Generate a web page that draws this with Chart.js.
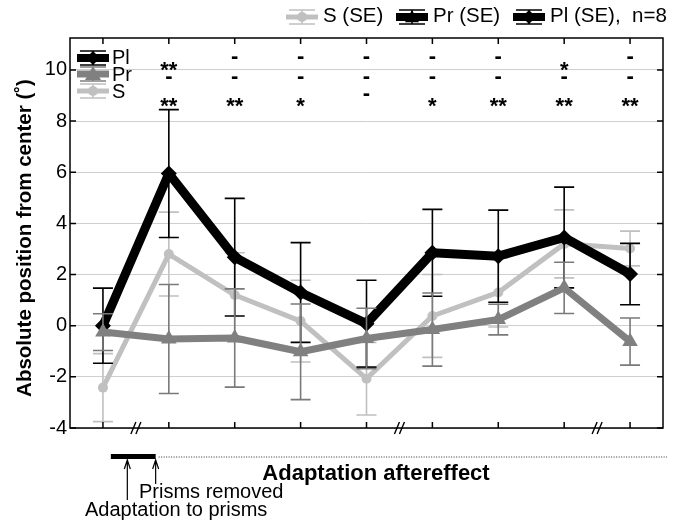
<!DOCTYPE html>
<html>
<head>
<meta charset="utf-8">
<script src="https://cdn.jsdelivr.net/npm/chart.js@4"></script>
<style>
  html, body { margin: 0; padding: 0; background: #fff; }
  #wrap { width: 673px; height: 520px; position: relative; }
</style>
</head>
<body>
<div id="wrap"><canvas id="chart"></canvas></div>
<script>
// données
const xLabels = ['pretest', '0h', '2h', '4h', '6h', '1d', '2d', '3d', '7d'];
const plMean = [0.0, 5.95, 2.68, 1.3, 0.08, 2.85, 2.72, 3.45, 2.02];
const plSE   = [1.47, 2.5, 2.3, 1.95, 1.7, 1.7, 1.8, 1.97, 1.2];
const prMean = [-0.25, -0.52, -0.48, -1.02, -0.5, -0.15, 0.24, 1.48, -0.62];
const prSE   = [0.72, 2.13, 1.92, 1.87, 1.18, 1.43, 0.6, 1.0, 0.92];
const sMean  = [-2.42, 2.8, 1.2, 0.18, -2.07, 0.38, 1.3, 3.2, 3.02];
const sSE    = [1.33, 1.64, 1.65, 1.6, 1.42, 1.62, 1.35, 1.33, 0.68];
const yTicks = [-4, -2, 0, 2, 4, 6, 8, 10];
const breaks = [0.5, 4.5, 7.5];

// marques de significativité (3 rangées)
const sigRow1 = ['', '**', '-', '-', '-', '-', '-', '*', '-'];
const sigRow2 = ['', '-', '-', '-', '-', '-', '-', '-', '-'];
const sigRow3 = ['', '**', '**', '*', '-', '*', '**', '**', '**'];

const FONT = '"Liberation Sans", Arial, Helvetica, sans-serif';
const C_PL = '#000000', C_PR = '#808080', C_S = '#c0c0c0';

Chart.defaults.font.family = FONT;
Chart.defaults.font.size = 20;
Chart.defaults.color = '#000';

const pts = arr => arr.map((v, i) => ({ x: i, y: v }));

function drawMarker(ctx, style, x, y, r, color) {
    ctx.save();
    ctx.fillStyle = color;
    ctx.beginPath();
    if (style === 'diamond') {
        ctx.moveTo(x, y - r); ctx.lineTo(x + r, y); ctx.lineTo(x, y + r); ctx.lineTo(x - r, y);
    } else if (style === 'triangle') {
        ctx.moveTo(x, y - r); ctx.lineTo(x + r, y + r * 0.75); ctx.lineTo(x - r, y + r * 0.75);
    } else {
        ctx.arc(x, y, r, 0, Math.PI * 2);
    }
    ctx.closePath();
    ctx.fill();
    ctx.restore();
}

function drawIcon(ctx, cx, cy, color, lw, marker, mr) {
    ctx.save();
    ctx.strokeStyle = color;
    ctx.lineWidth = 1.5;
    ctx.beginPath();
    ctx.moveTo(cx - 13, cy - 7); ctx.lineTo(cx + 13, cy - 7);
    ctx.moveTo(cx - 13, cy + 7); ctx.lineTo(cx + 13, cy + 7);
    ctx.moveTo(cx, cy - 7); ctx.lineTo(cx, cy + 7);
    ctx.stroke();
    ctx.lineWidth = lw;
    ctx.beginPath();
    ctx.moveTo(cx - 16, cy); ctx.lineTo(cx + 16, cy);
    ctx.stroke();
    ctx.restore();
    drawMarker(ctx, marker, cx, cy, mr, color);
}

// barres d'erreur dessinées sous chaque série
const errorBars = {
    id: 'errorBars',
    beforeDatasetDraw(chart, args) {
        const ds = chart.data.datasets[args.index];
        if (!ds.errors) return;
        const { ctx, scales: { x, y } } = chart;
        ctx.save();
        ctx.strokeStyle = ds.errColor;
        ctx.lineWidth = 1.6;
        ds.data.forEach((p, i) => {
            const px = x.getPixelForValue(p.x);
            const top = y.getPixelForValue(p.y + ds.errors[i]);
            const bot = y.getPixelForValue(p.y - ds.errors[i]);
            ctx.beginPath();
            ctx.moveTo(px, top); ctx.lineTo(px, bot);
            ctx.moveTo(px - 10, top); ctx.lineTo(px + 10, top);
            ctx.moveTo(px - 10, bot); ctx.lineTo(px + 10, bot);
            ctx.stroke();
        });
        ctx.restore();
    }
};

const decorations = {
    id: 'decorations',
    afterDraw(chart) {
        const { ctx, chartArea: a, scales: { x, y } } = chart;
        ctx.save();

        // cadre et graduations internes
        ctx.strokeStyle = '#000';
        ctx.lineWidth = 1.5;
        ctx.strokeRect(a.left, a.top, a.right - a.left, a.bottom - a.top);
        ctx.beginPath();
        xLabels.forEach((_, i) => {
            const px = x.getPixelForValue(i);
            ctx.moveTo(px, a.bottom); ctx.lineTo(px, a.bottom - 6);
            ctx.moveTo(px, a.top); ctx.lineTo(px, a.top + 6);
        });
        yTicks.forEach(v => {
            const py = y.getPixelForValue(v);
            ctx.moveTo(a.left, py); ctx.lineTo(a.left + 6, py);
            ctx.moveTo(a.right, py); ctx.lineTo(a.right - 6, py);
        });
        ctx.stroke();

        // coupures de l'axe
        ctx.lineWidth = 1.4;
        breaks.forEach(b => {
            const px = x.getPixelForValue(b);
            ctx.beginPath();
            [-2.5, 2.5].forEach(d => {
                ctx.moveTo(px + d - 2.5, a.bottom + 6);
                ctx.lineTo(px + d + 2.5, a.bottom - 6);
            });
            ctx.stroke();
        });

        // marques de significativité
        const MS = 22;
        ctx.textAlign = 'center';
        ctx.textBaseline = 'alphabetic';
        ctx.font = 'bold ' + MS + 'px ' + FONT;
        const rows = [
            { marks: sigRow1, dash: 10.5, star: 10.22 },
            { marks: sigRow2, dash: 9.75, star: 9.75 },
            { marks: sigRow3, dash: 9.05, star: 8.82 }
        ];
        rows.forEach(r => {
            r.marks.forEach((m, i) => {
                if (!m) return;
                const px = x.getPixelForValue(i);
                const star = m.includes('*');
                const cy = y.getPixelForValue(star ? r.star : r.dash);
                ctx.fillText(m, px, cy + (star ? 0.57 : 0.28) * MS);
            });
        });

        // légende interne
        ctx.font = '20px ' + FONT;
        ctx.textAlign = 'left';
        ctx.textBaseline = 'middle';
        drawIcon(ctx, 93, 58, C_PL, 8, 'diamond', 7);
        ctx.fillStyle = '#000'; ctx.fillText('Pl', 112, 58);
        drawIcon(ctx, 93, 74, C_PR, 7, 'triangle', 8);
        ctx.fillStyle = '#000'; ctx.fillText('Pr', 112, 75);
        drawIcon(ctx, 93, 91, C_S, 5, 'circle', 5);
        ctx.fillStyle = '#000'; ctx.fillText('S', 112, 92);

        // légende du haut
        ctx.font = '20.5px ' + FONT;
        drawIcon(ctx, 302, 17, C_S, 5, 'circle', 5);
        ctx.fillStyle = '#000'; ctx.fillText('S (SE)', 323, 16);
        drawIcon(ctx, 412, 17, C_PL, 8, 'triangle', 7);
        ctx.fillStyle = '#000'; ctx.fillText('Pr (SE)', 433, 16);
        drawIcon(ctx, 529, 17, C_PL, 8, 'diamond', 7);
        ctx.fillStyle = '#000'; ctx.fillText('Pl (SE),  n=8', 550, 16);

        // titre axe y
        ctx.save();
        ctx.translate(25, (a.top + a.bottom) / 2 + 5);
        ctx.rotate(-Math.PI / 2);
        ctx.textAlign = 'center';
        ctx.font = 'bold 20.5px ' + FONT;
        ctx.fillText('Absolute position from center (\u02DA)', 0, 0);
        ctx.restore();

        // frise sous l'axe x
        const barL = x.getPixelForValue(0.12), barR = x.getPixelForValue(0.8);
        ctx.fillStyle = '#000';
        ctx.fillRect(barL, 454, barR - barL, 5);
        ctx.strokeStyle = '#333';
        ctx.lineWidth = 1;
        ctx.setLineDash([1, 1.5]);
        ctx.beginPath();
        ctx.moveTo(barR + 3, 457); ctx.lineTo(a.right + 4, 457);
        ctx.stroke();
        ctx.setLineDash([]);

        const arrow = (px, y0, y1) => {
            ctx.beginPath();
            ctx.moveTo(px, y1); ctx.lineTo(px, y0);
            ctx.moveTo(px - 3, y0 + 9); ctx.lineTo(px, y0); ctx.lineTo(px + 3, y0 + 9);
            ctx.stroke();
        };
        ctx.strokeStyle = '#000';
        ctx.lineWidth = 1.2;
        arrow(x.getPixelForValue(0.37), 460, 500);
        arrow(barR, 460, 484);

        ctx.fillStyle = '#000';
        ctx.textAlign = 'center';
        ctx.textBaseline = 'middle';
        ctx.font = 'bold 22px ' + FONT;
        ctx.fillText('Adaptation aftereffect', 376, 474);
        ctx.textAlign = 'left';
        ctx.font = '20px ' + FONT;
        ctx.fillText('Prisms removed', 139, 492);
        ctx.fillText('Adaptation to prisms', 85, 510);

        ctx.restore();
    }
};

new Chart(document.getElementById('chart'), {
    type: 'line',
    data: {
        datasets: [
            {
                label: 'Pr', data: pts(prMean), errors: prSE, errColor: '#7a7a7a',
                borderColor: C_PR, backgroundColor: C_PR, borderWidth: 7,
                pointStyle: 'triangle', pointRadius: 9, pointBorderWidth: 0,
                order: 0
            },
            {
                label: 'Pl', data: pts(plMean), errors: plSE, errColor: C_PL,
                borderColor: C_PL, backgroundColor: C_PL, borderWidth: 9,
                pointStyle: 'rectRot', pointRadius: 8, pointBorderWidth: 0,
                order: 1
            },
            {
                label: 'S', data: pts(sMean), errors: sSE, errColor: C_S,
                borderColor: C_S, backgroundColor: C_S, borderWidth: 5,
                pointStyle: 'circle', pointRadius: 5, pointBorderWidth: 0,
                order: 2
            }
        ]
    },
    options: {
        responsive: true,
        maintainAspectRatio: false,
        animation: false,
        events: [],
        layout: { padding: { top: 38, right: 10, left: 0, bottom: 0 } },
        plugins: { legend: { display: false }, tooltip: { enabled: false } },
        elements: { line: { tension: 0, borderJoinStyle: 'round', borderCapStyle: 'round' } },
        scales: {
            x: {
                type: 'linear', min: -0.5, max: 8.5,
                grid: { display: false, drawTicks: false },
                border: { display: false },
                afterFit(s) { s.height = 92; },
                ticks: {
                    stepSize: 1, includeBounds: false, padding: 3,
                    maxRotation: 0, autoSkip: false,
                    callback: v => Number.isInteger(v) ? xLabels[v] : ''
                }
            },
            y: {
                min: -4, max: 11.25,
                grid: { color: '#cfcfcf', lineWidth: 1, drawTicks: false },
                border: { display: false },
                afterFit(s) { s.width = 70; },
                ticks: { stepSize: 2, includeBounds: false, padding: 3 }
            }
        }
    },
    plugins: [errorBars, decorations]
});
</script>
</body>
</html>
